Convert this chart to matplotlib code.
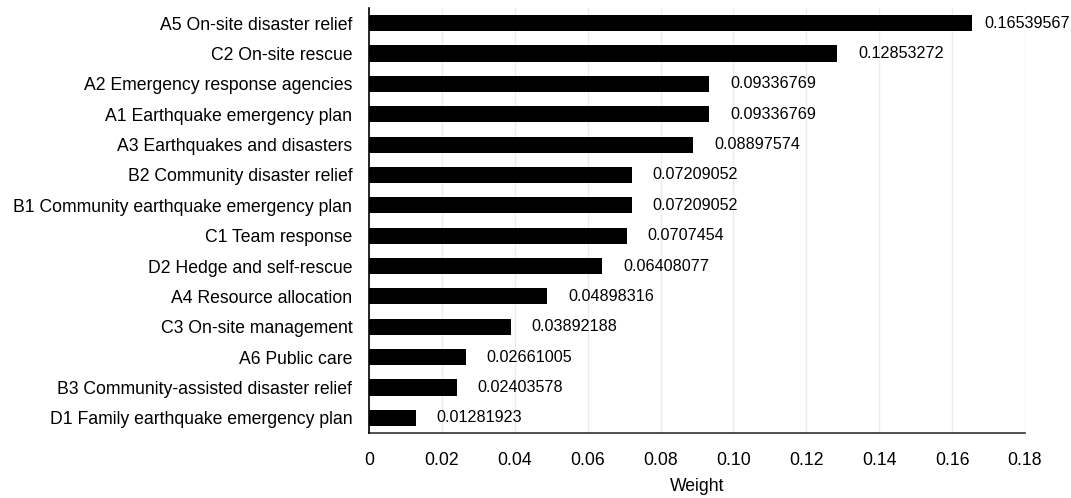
import numpy as np
from matplotlib import pyplot as plt

labels = [
    "A5 On-site disaster relief",
    "C2 On-site rescue",
    "A2 Emergency response agencies",
    "A1 Earthquake emergency plan",
    "A3 Earthquakes and disasters",
    "B2 Community disaster relief",
    "B1 Community earthquake emergency plan",
    "C1 Team response",
    "D2 Hedge and self-rescue",
    "A4 Resource allocation",
    "C3 On-site management",
    "A6 Public care",
    "B3 Community-assisted disaster relief",
    "D1 Family earthquake emergency plan",
]
weights = [0.16539567, 0.12853272, 0.09336769, 0.09336769, 0.08897574,
           0.07209052, 0.07209052, 0.0707454, 0.06408077, 0.04898316,
           0.03892188, 0.02661005, 0.02403578, 0.01281923]
value_text = ["0.16539567", "0.12853272", "0.09336769", "0.09336769", "0.08897574",
              "0.07209052", "0.07209052", "0.0707454", "0.06408077", "0.04898316",
              "0.03892188", "0.02661005", "0.02403578", "0.01281923"]
xticks = [0, 0.02, 0.04, 0.06, 0.08, 0.10, 0.12, 0.14, 0.16, 0.18]
xtick_labels = ["0", "0.02", "0.04", "0.06", "0.08", "0.10", "0.12", "0.14", "0.16", "0.18"]

plt.rcParams['font.family'] = ['Liberation Sans', 'DejaVu Sans']
plt.rcParams['font.size'] = 12.7

fig = plt.figure(figsize=(10.71, 4.98), dpi=100)
ax = fig.add_axes([0.3445, 0.1305, 0.6125, 0.8535])

y = np.arange(len(labels))
bars = ax.barh(y, weights, height=0.53, color="black", zorder=3)

for i, (w, t) in enumerate(zip(weights, value_text)):
    pad = 9 if i == 0 else 15
    ax.annotate(t, (w, i), xytext=(pad, 0), textcoords="offset points",
                va="center", ha="left", fontsize=11.6)

ax.set_ylim(len(labels) - 0.5, -0.5)
ax.set_yticks(y)
ax.set_yticklabels(labels)
ax.set_xlim(0, 0.18)
ax.set_xticks(xticks)
ax.set_xticklabels(xtick_labels)
ax.set_xlabel("Weight", labelpad=6)

ax.grid(axis="x", color="#ececec", linewidth=1, zorder=0)
ax.tick_params(axis="both", length=0)
ax.tick_params(axis="x", pad=14)
ax.tick_params(axis="y", pad=12)
for s in ["top", "right"]:
    ax.spines[s].set_visible(False)
ax.spines["left"].set_color("black")
ax.spines["bottom"].set_color("#333333")
ax.spines["left"].set_linewidth(1.2)
ax.spines["bottom"].set_linewidth(1.2)
ax.spines["left"].set_zorder(4)

fig.savefig("out.png", dpi=100)
